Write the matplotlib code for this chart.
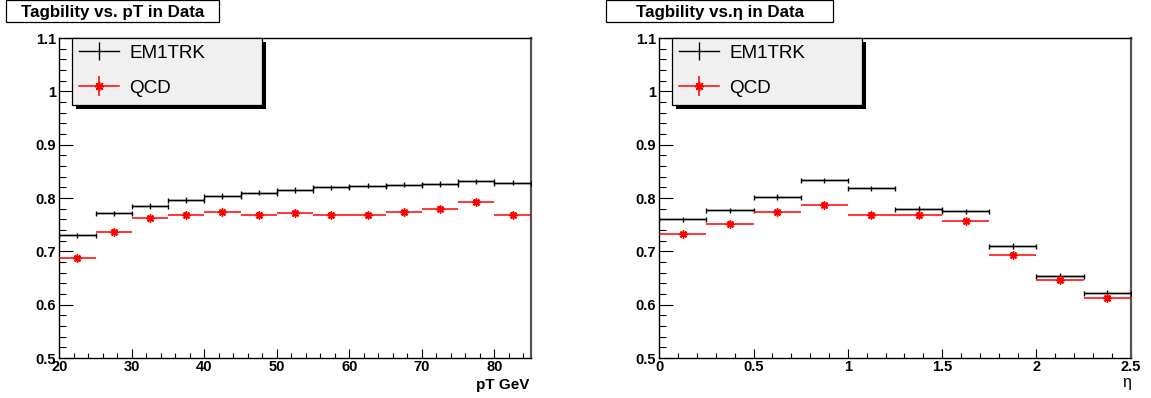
import matplotlib
matplotlib.use("Agg")
import matplotlib.pyplot as plt
from matplotlib.patches import Rectangle
from matplotlib.lines import Line2D
import numpy as np

plt.rcParams['font.family'] = ['Liberation Sans', 'DejaVu Sans']

# ---- data ----
pt_edges = [20, 25, 30, 35, 40, 45, 50, 55, 60, 65, 70, 75, 80, 85]
pt_em1trk = [0.730, 0.771, 0.785, 0.796, 0.804, 0.810, 0.815, 0.820, 0.823, 0.825, 0.826, 0.831, 0.829]
pt_qcd = [0.688, 0.736, 0.762, 0.769, 0.773, 0.768, 0.772, 0.768, 0.768, 0.773, 0.780, 0.793, 0.768]
eta_edges = [0.0, 0.25, 0.5, 0.75, 1.0, 1.25, 1.5, 1.75, 2.0, 2.25, 2.5]
eta_em1trk = [0.760, 0.777, 0.802, 0.833, 0.818, 0.780, 0.775, 0.710, 0.654, 0.622]
eta_qcd = [0.732, 0.751, 0.773, 0.787, 0.769, 0.769, 0.756, 0.694, 0.646, 0.612]
err_em1trk = 0.005
err_qcd = 0.005
series_names = ['EM1TRK', 'QCD']
titles = ["Tagbility vs. pT in Data", "Tagbility vs.\u03b7 in Data"]
xlabels = ["pT GeV", "\u03b7"]
yticks = [0.5, 0.6, 0.7, 0.8, 0.9, 1.0, 1.1]
ytick_labels = ['0.5', '0.6', '0.7', '0.8', '0.9', '1', '1.1']
pt_ticks = [20, 30, 40, 50, 60, 70, 80]
pt_tick_labels = ['20', '30', '40', '50', '60', '70', '80']
eta_ticks = [0, 0.5, 1, 1.5, 2, 2.5]
eta_tick_labels = ['0', '0.5', '1', '1.5', '2', '2.5']

W, H = 1151, 398
fig = plt.figure(figsize=(W / 100, H / 100), dpi=100)
renderer = fig.canvas.get_renderer()

def px_axes(x0, y0, x1, y1):
    return fig.add_axes([x0 / W, 1 - y1 / H, (x1 - x0) / W, (y1 - y0) / H])

ax1 = px_axes(59.3, 38, 530.7, 358)
ax2 = px_axes(659.3, 38, 1130.7, 358)

AST = (8, 2, 0)

def draw(ax, edges, s1, s2):
    edges = np.asarray(edges)
    centers = (edges[:-1] + edges[1:]) / 2
    half = (edges[1:] - edges[:-1]) / 2
    ax.errorbar(centers, s1, xerr=half, yerr=err_em1trk, fmt='none', ecolor='black',
                elinewidth=1.0, capsize=0, zorder=3)
    ax.errorbar(centers, s1, xerr=half, fmt='none', ecolor='black', elinewidth=1.0,
                capsize=1.8, capthick=1.0, zorder=3)
    ax.errorbar(centers, s2, xerr=half, yerr=err_qcd, fmt='none', ecolor='red',
                elinewidth=1.1, capsize=0, zorder=3)
    ax.plot(centers, s2, linestyle='none', marker=AST, markersize=5.8,
            markeredgewidth=1.1, color='red', zorder=4)

def style(ax, xlim, xmaj, xlabs, xmin):
    ax.set_xlim(*xlim)
    ax.set_ylim(0.5, 1.1)
    ax.set_xticks(xmaj)
    ax.set_xticklabels(xlabs, fontweight='bold', fontsize=10.5)
    ax.set_xticks(xmin, minor=True)
    ax.set_yticks(yticks)
    ax.set_yticklabels(ytick_labels, fontweight='bold', fontsize=10.5)
    ax.set_yticks(np.round(np.arange(0.5, 1.1001, 0.02), 2), minor=True)
    ax.tick_params(axis='both', which='both', direction='in', width=0.8, color='black')
    ax.tick_params(axis='y', which='major', length=10, pad=2.5)
    ax.tick_params(axis='y', which='minor', length=5)
    ax.tick_params(axis='x', which='major', length=6.5, pad=1.5)
    ax.tick_params(axis='x', which='minor', length=3.3)
    ax.tick_params(top=False, right=False, which='both')
    for s in ['left', 'bottom', 'top']:
        ax.spines[s].set_linewidth(1.0)
        ax.spines[s].set_color('black')
    ax.spines['right'].set_linewidth(1.6)
    ax.spines['right'].set_color('#555555')

draw(ax1, pt_edges, pt_em1trk, pt_qcd)
style(ax1, (20, 85), pt_ticks, pt_tick_labels, np.arange(20, 85.01, 2))
draw(ax2, eta_edges, eta_em1trk, eta_qcd)
style(ax2, (0, 2.5), eta_ticks, eta_tick_labels, np.arange(0, 2.501, 0.1))

# axis labels
fig.text(529 / W, 1 - 385 / H, xlabels[0], ha='right', va='center', fontsize=11, fontweight='bold')
fig.text(1127 / W, 1 - 383 / H, xlabels[1], ha='center', va='center', fontsize=11.5)

# legends (ROOT style box with shadow)
for ax in (ax1, ax2):
    h1 = Line2D([], [], color='black', lw=1.0, marker='|', markersize=13, markeredgewidth=1.0)
    h2a = Line2D([], [], color='red', lw=1.1, marker='|', markersize=14, markeredgewidth=1.1)
    h2b = Line2D([], [], color='red', lw=0, marker=AST, markersize=6.5, markeredgewidth=1.1)
    x0 = 12.4 / 471.4
    wd = 190 / 471.4
    ht = 67 / 320
    ax.add_patch(Rectangle((x0 + 4 / 471.4, 1.0 - ht - 4 / 320), wd, ht, transform=ax.transAxes,
                           facecolor='black', edgecolor='black', lw=0, zorder=5, clip_on=False))
    ax.add_patch(Rectangle((x0, 1.0 - ht), wd, ht, transform=ax.transAxes,
                           facecolor='#f0f0f0', edgecolor='black', lw=0.9, zorder=6, clip_on=False))
    leg = ax.legend([h1, (h2a, h2b)], series_names, loc='upper left',
                    bbox_to_anchor=(x0, 1.0 + 1 / 320), borderaxespad=0, frameon=False,
                    fontsize=13.6, handlelength=2.1, handletextpad=0.55, numpoints=1,
                    labelspacing=0.95, borderpad=0.4)
    leg.set_zorder(7)

# title boxes
def title_box(x0, x1, text, fs):
    fig.patches.append(Rectangle((x0 / W, 1 - 22 / H), (x1 - x0) / W, 21.5 / H,
                                 transform=fig.transFigure, facecolor='white',
                                 edgecolor='black', lw=0.9))
    return fig.text((x0 + x1) / 2 / W, 1 - 12 / H, text, ha='center', va='center',
                    fontsize=fs, fontweight='bold')

t1 = title_box(6, 219, titles[0], 10)
w = t1.get_window_extent(renderer=renderer).width
fs = 10 * 182 / w
t1.set_fontsize(fs)
title_box(606, 833, titles[1], fs)

fig.savefig('out.png', dpi=100)
